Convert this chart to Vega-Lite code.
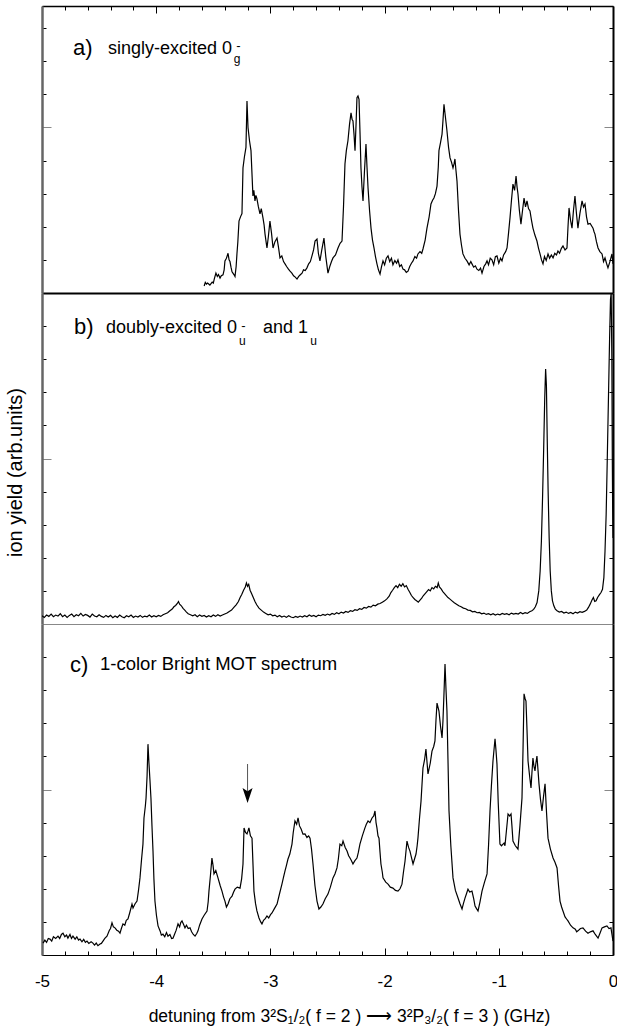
{
  "$schema": "https://vega.github.io/schema/vega-lite/v6.json",
  "padding": {"left": 5, "top": 5, "right": 3, "bottom": 5},
  "background": "white",
  "config": {
    "font": "Liberation Sans",
    "view": {"stroke": null},
    "axis": {"grid": false, "labels": false, "domainColor": "#000", "tickColor": "#000", "tickWidth": 1, "labelOverlap": false, "labelFlush": false}
  },
  "datasets": {
    "a": [
      {"x": -3.58, "y": 0.21}, {"x": -3.57, "y": 0.32}, {"x": -3.56, "y": 0.27}, {"x": -3.55, "y": 0.30}, {"x": -3.53, "y": 0.24}, {"x": -3.51, "y": 0.33}, {"x": -3.50, "y": 0.30}, {"x": -3.49, "y": 0.44}, {"x": -3.477, "y": 0.60}, {"x": -3.465, "y": 0.50}, {"x": -3.455, "y": 0.56}, {"x": -3.441, "y": 0.45}, {"x": -3.43, "y": 0.52}, {"x": -3.415, "y": 0.55}, {"x": -3.405, "y": 0.70}, {"x": -3.398, "y": 0.97}, {"x": -3.385, "y": 1.05}, {"x": -3.371, "y": 1.20}, {"x": -3.362, "y": 1.0}, {"x": -3.354, "y": 0.95}, {"x": -3.345, "y": 0.78}, {"x": -3.336, "y": 0.64}, {"x": -3.328, "y": 0.60}, {"x": -3.318, "y": 0.55}, {"x": -3.310, "y": 0.50}, {"x": -3.30, "y": 0.80}, {"x": -3.293, "y": 1.18}, {"x": -3.285, "y": 1.55}, {"x": -3.275, "y": 2.17}, {"x": -3.262, "y": 2.3}, {"x": -3.249, "y": 2.40}, {"x": -3.240, "y": 3.78}, {"x": -3.228, "y": 4.1}, {"x": -3.214, "y": 4.40}, {"x": -3.205, "y": 5.80}, {"x": -3.196, "y": 5.00}, {"x": -3.183, "y": 4.6}, {"x": -3.170, "y": 4.30}, {"x": -3.16, "y": 3.5}, {"x": -3.153, "y": 2.93}, {"x": -3.145, "y": 3.1}, {"x": -3.135, "y": 2.78}, {"x": -3.127, "y": 2.95}, {"x": -3.118, "y": 2.85}, {"x": -3.105, "y": 2.6}, {"x": -3.091, "y": 2.39}, {"x": -3.08, "y": 2.55}, {"x": -3.065, "y": 2.27}, {"x": -3.055, "y": 2.05}, {"x": -3.047, "y": 1.78}, {"x": -3.038, "y": 1.55}, {"x": -3.030, "y": 1.36}, {"x": -3.018, "y": 1.7}, {"x": -3.004, "y": 2.17}, {"x": -2.99, "y": 1.8}, {"x": -2.977, "y": 1.36}, {"x": -2.96, "y": 1.55}, {"x": -2.942, "y": 1.66}, {"x": -2.93, "y": 1.4}, {"x": -2.916, "y": 1.06}, {"x": -2.90, "y": 1.12}, {"x": -2.885, "y": 0.95}, {"x": -2.872, "y": 0.88}, {"x": -2.858, "y": 0.8}, {"x": -2.842, "y": 0.72}, {"x": -2.828, "y": 0.66}, {"x": -2.812, "y": 0.6}, {"x": -2.797, "y": 0.52}, {"x": -2.782, "y": 0.48}, {"x": -2.767, "y": 0.42}, {"x": -2.752, "y": 0.5}, {"x": -2.738, "y": 0.55}, {"x": -2.723, "y": 0.60}, {"x": -2.71, "y": 0.7}, {"x": -2.695, "y": 0.68}, {"x": -2.680, "y": 0.76}, {"x": -2.665, "y": 0.88}, {"x": -2.65, "y": 0.95}, {"x": -2.636, "y": 1.12}, {"x": -2.622, "y": 1.3}, {"x": -2.609, "y": 1.57}, {"x": -2.592, "y": 1.63}, {"x": -2.58, "y": 1.2}, {"x": -2.566, "y": 0.97}, {"x": -2.55, "y": 1.3}, {"x": -2.531, "y": 1.66}, {"x": -2.515, "y": 1.1}, {"x": -2.496, "y": 0.60}, {"x": -2.48, "y": 0.8}, {"x": -2.465, "y": 0.95}, {"x": -2.452, "y": 1.06}, {"x": -2.43, "y": 1.15}, {"x": -2.408, "y": 1.36}, {"x": -2.39, "y": 1.5}, {"x": -2.373, "y": 1.57}, {"x": -2.36, "y": 2.6}, {"x": -2.347, "y": 3.90}, {"x": -2.335, "y": 4.3}, {"x": -2.321, "y": 4.60}, {"x": -2.307, "y": 5.1}, {"x": -2.294, "y": 5.44}, {"x": -2.285, "y": 5.25}, {"x": -2.277, "y": 5.20}, {"x": -2.268, "y": 4.8}, {"x": -2.259, "y": 4.30}, {"x": -2.25, "y": 5.1}, {"x": -2.242, "y": 5.90}, {"x": -2.233, "y": 5.95}, {"x": -2.224, "y": 5.85}, {"x": -2.215, "y": 4.8}, {"x": -2.207, "y": 3.78}, {"x": -2.198, "y": 3.2}, {"x": -2.189, "y": 2.78}, {"x": -2.176, "y": 3.7}, {"x": -2.163, "y": 4.50}, {"x": -2.154, "y": 3.8}, {"x": -2.145, "y": 3.17}, {"x": -2.132, "y": 2.5}, {"x": -2.119, "y": 1.96}, {"x": -2.106, "y": 1.6}, {"x": -2.093, "y": 1.36}, {"x": -2.08, "y": 1.1}, {"x": -2.067, "y": 0.88}, {"x": -2.054, "y": 0.7}, {"x": -2.040, "y": 0.57}, {"x": -2.027, "y": 0.8}, {"x": -2.014, "y": 0.97}, {"x": -2.0, "y": 0.85}, {"x": -1.985, "y": 1.05}, {"x": -1.970, "y": 1.12}, {"x": -1.955, "y": 0.95}, {"x": -1.94, "y": 1.05}, {"x": -1.927, "y": 0.85}, {"x": -1.91, "y": 0.98}, {"x": -1.895, "y": 0.9}, {"x": -1.883, "y": 1.0}, {"x": -1.868, "y": 0.8}, {"x": -1.853, "y": 0.85}, {"x": -1.839, "y": 0.72}, {"x": -1.825, "y": 0.7}, {"x": -1.81, "y": 0.62}, {"x": -1.795, "y": 0.66}, {"x": -1.78, "y": 0.8}, {"x": -1.765, "y": 0.9}, {"x": -1.751, "y": 0.97}, {"x": -1.735, "y": 1.1}, {"x": -1.72, "y": 1.05}, {"x": -1.708, "y": 1.18}, {"x": -1.69, "y": 1.25}, {"x": -1.675, "y": 1.2}, {"x": -1.664, "y": 1.33}, {"x": -1.645, "y": 1.6}, {"x": -1.629, "y": 1.96}, {"x": -1.61, "y": 2.3}, {"x": -1.594, "y": 2.69}, {"x": -1.58, "y": 2.8}, {"x": -1.568, "y": 2.87}, {"x": -1.555, "y": 3.0}, {"x": -1.541, "y": 3.23}, {"x": -1.53, "y": 3.8}, {"x": -1.524, "y": 4.30}, {"x": -1.51, "y": 4.55}, {"x": -1.497, "y": 4.80}, {"x": -1.489, "y": 5.2}, {"x": -1.480, "y": 5.70}, {"x": -1.467, "y": 5.3}, {"x": -1.454, "y": 4.90}, {"x": -1.44, "y": 4.4}, {"x": -1.427, "y": 4.08}, {"x": -1.414, "y": 3.95}, {"x": -1.401, "y": 3.78}, {"x": -1.392, "y": 3.9}, {"x": -1.384, "y": 4.05}, {"x": -1.375, "y": 3.7}, {"x": -1.366, "y": 3.38}, {"x": -1.353, "y": 2.5}, {"x": -1.340, "y": 1.78}, {"x": -1.327, "y": 1.45}, {"x": -1.314, "y": 1.18}, {"x": -1.296, "y": 1.05}, {"x": -1.279, "y": 0.97}, {"x": -1.26, "y": 0.85}, {"x": -1.245, "y": 0.95}, {"x": -1.235, "y": 0.88}, {"x": -1.22, "y": 0.78}, {"x": -1.205, "y": 0.82}, {"x": -1.191, "y": 0.72}, {"x": -1.175, "y": 0.68}, {"x": -1.16, "y": 0.75}, {"x": -1.147, "y": 0.60}, {"x": -1.13, "y": 0.8}, {"x": -1.115, "y": 0.88}, {"x": -1.103, "y": 0.97}, {"x": -1.09, "y": 0.85}, {"x": -1.075, "y": 1.05}, {"x": -1.060, "y": 1.0}, {"x": -1.045, "y": 0.85}, {"x": -1.03, "y": 1.1}, {"x": -1.016, "y": 1.12}, {"x": -1.0, "y": 0.9}, {"x": -0.985, "y": 1.05}, {"x": -0.972, "y": 0.97}, {"x": -0.958, "y": 1.15}, {"x": -0.94, "y": 1.25}, {"x": -0.928, "y": 1.36}, {"x": -0.915, "y": 1.8}, {"x": -0.902, "y": 2.27}, {"x": -0.889, "y": 2.8}, {"x": -0.876, "y": 3.29}, {"x": -0.862, "y": 3.1}, {"x": -0.849, "y": 3.53}, {"x": -0.84, "y": 3.2}, {"x": -0.832, "y": 2.99}, {"x": -0.82, "y": 2.5}, {"x": -0.806, "y": 2.08}, {"x": -0.792, "y": 2.5}, {"x": -0.779, "y": 2.87}, {"x": -0.766, "y": 2.6}, {"x": -0.753, "y": 2.78}, {"x": -0.74, "y": 2.55}, {"x": -0.727, "y": 2.48}, {"x": -0.714, "y": 2.2}, {"x": -0.701, "y": 1.96}, {"x": -0.684, "y": 1.75}, {"x": -0.666, "y": 1.57}, {"x": -0.652, "y": 1.35}, {"x": -0.639, "y": 1.18}, {"x": -0.626, "y": 1.0}, {"x": -0.613, "y": 0.88}, {"x": -0.6, "y": 1.1}, {"x": -0.585, "y": 0.98}, {"x": -0.569, "y": 1.18}, {"x": -0.555, "y": 1.05}, {"x": -0.54, "y": 1.15}, {"x": -0.525, "y": 1.06}, {"x": -0.51, "y": 1.2}, {"x": -0.495, "y": 1.15}, {"x": -0.482, "y": 1.27}, {"x": -0.468, "y": 1.2}, {"x": -0.452, "y": 1.35}, {"x": -0.438, "y": 1.42}, {"x": -0.42, "y": 1.3}, {"x": -0.403, "y": 1.36}, {"x": -0.394, "y": 2.0}, {"x": -0.385, "y": 2.57}, {"x": -0.372, "y": 2.2}, {"x": -0.359, "y": 1.96}, {"x": -0.346, "y": 2.5}, {"x": -0.333, "y": 2.93}, {"x": -0.32, "y": 2.4}, {"x": -0.307, "y": 1.96}, {"x": -0.29, "y": 2.4}, {"x": -0.271, "y": 2.78}, {"x": -0.258, "y": 2.6}, {"x": -0.245, "y": 2.69}, {"x": -0.232, "y": 2.3}, {"x": -0.219, "y": 2.08}, {"x": -0.2, "y": 2.1}, {"x": -0.175, "y": 1.96}, {"x": -0.166, "y": 1.85}, {"x": -0.158, "y": 1.78}, {"x": -0.145, "y": 1.55}, {"x": -0.131, "y": 1.36}, {"x": -0.115, "y": 1.25}, {"x": -0.096, "y": 1.18}, {"x": -0.083, "y": 0.95}, {"x": -0.070, "y": 1.06}, {"x": -0.057, "y": 0.9}, {"x": -0.044, "y": 0.76}, {"x": -0.027, "y": 0.95}, {"x": -0.009, "y": 1.18}, {"x": 0.0, "y": 0.88}
    ],
    "b": [
      {"x": -5.0, "y": 0.25}, {"x": -4.98, "y": 0.2}, {"x": -4.96, "y": 0.27}, {"x": -4.94, "y": 0.23}, {"x": -4.92, "y": 0.3}, {"x": -4.9, "y": 0.22}, {"x": -4.88, "y": 0.27}, {"x": -4.86, "y": 0.24}, {"x": -4.84, "y": 0.31}, {"x": -4.82, "y": 0.22}, {"x": -4.8, "y": 0.27}, {"x": -4.78, "y": 0.2}, {"x": -4.76, "y": 0.26}, {"x": -4.74, "y": 0.3}, {"x": -4.72, "y": 0.22}, {"x": -4.7, "y": 0.28}, {"x": -4.68, "y": 0.25}, {"x": -4.66, "y": 0.32}, {"x": -4.64, "y": 0.24}, {"x": -4.62, "y": 0.29}, {"x": -4.6, "y": 0.26}, {"x": -4.58, "y": 0.21}, {"x": -4.56, "y": 0.3}, {"x": -4.54, "y": 0.24}, {"x": -4.52, "y": 0.22}, {"x": -4.5, "y": 0.28}, {"x": -4.48, "y": 0.23}, {"x": -4.46, "y": 0.2}, {"x": -4.44, "y": 0.26}, {"x": -4.42, "y": 0.21}, {"x": -4.4, "y": 0.26}, {"x": -4.38, "y": 0.19}, {"x": -4.36, "y": 0.24}, {"x": -4.34, "y": 0.2}, {"x": -4.32, "y": 0.27}, {"x": -4.3, "y": 0.22}, {"x": -4.28, "y": 0.19}, {"x": -4.26, "y": 0.25}, {"x": -4.24, "y": 0.22}, {"x": -4.22, "y": 0.27}, {"x": -4.2, "y": 0.2}, {"x": -4.18, "y": 0.24}, {"x": -4.16, "y": 0.21}, {"x": -4.14, "y": 0.26}, {"x": -4.12, "y": 0.2}, {"x": -4.1, "y": 0.24}, {"x": -4.08, "y": 0.22}, {"x": -4.06, "y": 0.27}, {"x": -4.04, "y": 0.21}, {"x": -4.02, "y": 0.25}, {"x": -4.0, "y": 0.22}, {"x": -3.98, "y": 0.26}, {"x": -3.96, "y": 0.23}, {"x": -3.94, "y": 0.28}, {"x": -3.92, "y": 0.31}, {"x": -3.9, "y": 0.34}, {"x": -3.88, "y": 0.4}, {"x": -3.86, "y": 0.45}, {"x": -3.845, "y": 0.52}, {"x": -3.83, "y": 0.56}, {"x": -3.815, "y": 0.62}, {"x": -3.805, "y": 0.68}, {"x": -3.795, "y": 0.6}, {"x": -3.78, "y": 0.55}, {"x": -3.765, "y": 0.47}, {"x": -3.75, "y": 0.42}, {"x": -3.735, "y": 0.36}, {"x": -3.72, "y": 0.31}, {"x": -3.7, "y": 0.28}, {"x": -3.68, "y": 0.25}, {"x": -3.66, "y": 0.28}, {"x": -3.64, "y": 0.22}, {"x": -3.62, "y": 0.27}, {"x": -3.6, "y": 0.23}, {"x": -3.58, "y": 0.26}, {"x": -3.56, "y": 0.21}, {"x": -3.54, "y": 0.25}, {"x": -3.52, "y": 0.22}, {"x": -3.5, "y": 0.27}, {"x": -3.48, "y": 0.23}, {"x": -3.46, "y": 0.28}, {"x": -3.44, "y": 0.24}, {"x": -3.42, "y": 0.27}, {"x": -3.4, "y": 0.3}, {"x": -3.38, "y": 0.33}, {"x": -3.36, "y": 0.38}, {"x": -3.34, "y": 0.42}, {"x": -3.32, "y": 0.5}, {"x": -3.3, "y": 0.58}, {"x": -3.28, "y": 0.68}, {"x": -3.265, "y": 0.8}, {"x": -3.25, "y": 0.9}, {"x": -3.235, "y": 1.02}, {"x": -3.22, "y": 1.12}, {"x": -3.21, "y": 1.24}, {"x": -3.2, "y": 1.14}, {"x": -3.19, "y": 1.2}, {"x": -3.178, "y": 1.02}, {"x": -3.165, "y": 0.92}, {"x": -3.15, "y": 0.8}, {"x": -3.135, "y": 0.68}, {"x": -3.12, "y": 0.58}, {"x": -3.1, "y": 0.48}, {"x": -3.08, "y": 0.42}, {"x": -3.06, "y": 0.36}, {"x": -3.04, "y": 0.32}, {"x": -3.02, "y": 0.28}, {"x": -3.0, "y": 0.3}, {"x": -2.98, "y": 0.25}, {"x": -2.96, "y": 0.27}, {"x": -2.94, "y": 0.22}, {"x": -2.92, "y": 0.26}, {"x": -2.9, "y": 0.21}, {"x": -2.88, "y": 0.24}, {"x": -2.86, "y": 0.2}, {"x": -2.84, "y": 0.25}, {"x": -2.82, "y": 0.21}, {"x": -2.8, "y": 0.19}, {"x": -2.78, "y": 0.23}, {"x": -2.76, "y": 0.2}, {"x": -2.74, "y": 0.24}, {"x": -2.72, "y": 0.21}, {"x": -2.7, "y": 0.25}, {"x": -2.68, "y": 0.22}, {"x": -2.66, "y": 0.27}, {"x": -2.64, "y": 0.23}, {"x": -2.62, "y": 0.26}, {"x": -2.6, "y": 0.22}, {"x": -2.58, "y": 0.27}, {"x": -2.56, "y": 0.25}, {"x": -2.54, "y": 0.29}, {"x": -2.52, "y": 0.26}, {"x": -2.5, "y": 0.3}, {"x": -2.48, "y": 0.27}, {"x": -2.46, "y": 0.32}, {"x": -2.44, "y": 0.29}, {"x": -2.42, "y": 0.34}, {"x": -2.4, "y": 0.31}, {"x": -2.38, "y": 0.36}, {"x": -2.36, "y": 0.33}, {"x": -2.34, "y": 0.38}, {"x": -2.32, "y": 0.35}, {"x": -2.3, "y": 0.4}, {"x": -2.28, "y": 0.38}, {"x": -2.26, "y": 0.43}, {"x": -2.24, "y": 0.41}, {"x": -2.22, "y": 0.46}, {"x": -2.2, "y": 0.44}, {"x": -2.18, "y": 0.5}, {"x": -2.16, "y": 0.48}, {"x": -2.14, "y": 0.53}, {"x": -2.12, "y": 0.51}, {"x": -2.1, "y": 0.57}, {"x": -2.08, "y": 0.55}, {"x": -2.06, "y": 0.6}, {"x": -2.04, "y": 0.62}, {"x": -2.02, "y": 0.66}, {"x": -2.0, "y": 0.7}, {"x": -1.98, "y": 0.76}, {"x": -1.96, "y": 0.84}, {"x": -1.945, "y": 0.95}, {"x": -1.93, "y": 1.02}, {"x": -1.915, "y": 1.1}, {"x": -1.9, "y": 1.16}, {"x": -1.885, "y": 1.1}, {"x": -1.87, "y": 1.2}, {"x": -1.855, "y": 1.14}, {"x": -1.84, "y": 1.22}, {"x": -1.825, "y": 1.12}, {"x": -1.81, "y": 1.16}, {"x": -1.795, "y": 1.05}, {"x": -1.78, "y": 0.96}, {"x": -1.765, "y": 0.86}, {"x": -1.75, "y": 0.8}, {"x": -1.735, "y": 0.74}, {"x": -1.72, "y": 0.7}, {"x": -1.705, "y": 0.66}, {"x": -1.69, "y": 0.72}, {"x": -1.675, "y": 0.78}, {"x": -1.66, "y": 0.86}, {"x": -1.645, "y": 0.92}, {"x": -1.63, "y": 0.98}, {"x": -1.615, "y": 1.04}, {"x": -1.6, "y": 1.0}, {"x": -1.585, "y": 1.1}, {"x": -1.57, "y": 1.06}, {"x": -1.555, "y": 1.14}, {"x": -1.54, "y": 1.1}, {"x": -1.53, "y": 1.24}, {"x": -1.52, "y": 1.12}, {"x": -1.505, "y": 1.06}, {"x": -1.49, "y": 0.98}, {"x": -1.475, "y": 0.92}, {"x": -1.46, "y": 0.86}, {"x": -1.445, "y": 0.8}, {"x": -1.43, "y": 0.76}, {"x": -1.41, "y": 0.7}, {"x": -1.39, "y": 0.64}, {"x": -1.37, "y": 0.6}, {"x": -1.35, "y": 0.55}, {"x": -1.33, "y": 0.52}, {"x": -1.31, "y": 0.48}, {"x": -1.29, "y": 0.46}, {"x": -1.27, "y": 0.42}, {"x": -1.25, "y": 0.41}, {"x": -1.23, "y": 0.37}, {"x": -1.21, "y": 0.38}, {"x": -1.19, "y": 0.34}, {"x": -1.17, "y": 0.35}, {"x": -1.15, "y": 0.31}, {"x": -1.13, "y": 0.33}, {"x": -1.11, "y": 0.29}, {"x": -1.09, "y": 0.31}, {"x": -1.07, "y": 0.28}, {"x": -1.05, "y": 0.31}, {"x": -1.03, "y": 0.27}, {"x": -1.01, "y": 0.3}, {"x": -0.99, "y": 0.28}, {"x": -0.97, "y": 0.32}, {"x": -0.95, "y": 0.29}, {"x": -0.93, "y": 0.31}, {"x": -0.91, "y": 0.28}, {"x": -0.89, "y": 0.33}, {"x": -0.87, "y": 0.3}, {"x": -0.85, "y": 0.32}, {"x": -0.83, "y": 0.3}, {"x": -0.81, "y": 0.35}, {"x": -0.79, "y": 0.31}, {"x": -0.77, "y": 0.34}, {"x": -0.75, "y": 0.32}, {"x": -0.73, "y": 0.37}, {"x": -0.71, "y": 0.4}, {"x": -0.695, "y": 0.44}, {"x": -0.68, "y": 0.52}, {"x": -0.665, "y": 0.65}, {"x": -0.65, "y": 1.0}, {"x": -0.638, "y": 1.6}, {"x": -0.627, "y": 2.5}, {"x": -0.617, "y": 3.8}, {"x": -0.607, "y": 5.3}, {"x": -0.598, "y": 6.8}, {"x": -0.59, "y": 7.7}, {"x": -0.583, "y": 7.2}, {"x": -0.576, "y": 5.6}, {"x": -0.568, "y": 4.0}, {"x": -0.559, "y": 2.6}, {"x": -0.55, "y": 1.6}, {"x": -0.54, "y": 1.0}, {"x": -0.53, "y": 0.7}, {"x": -0.518, "y": 0.55}, {"x": -0.505, "y": 0.45}, {"x": -0.49, "y": 0.4}, {"x": -0.47, "y": 0.36}, {"x": -0.45, "y": 0.38}, {"x": -0.43, "y": 0.33}, {"x": -0.41, "y": 0.36}, {"x": -0.39, "y": 0.32}, {"x": -0.37, "y": 0.35}, {"x": -0.35, "y": 0.31}, {"x": -0.33, "y": 0.36}, {"x": -0.31, "y": 0.33}, {"x": -0.29, "y": 0.37}, {"x": -0.27, "y": 0.35}, {"x": -0.25, "y": 0.38}, {"x": -0.23, "y": 0.42}, {"x": -0.215, "y": 0.5}, {"x": -0.2, "y": 0.6}, {"x": -0.185, "y": 0.72}, {"x": -0.172, "y": 0.8}, {"x": -0.16, "y": 0.68}, {"x": -0.148, "y": 0.7}, {"x": -0.135, "y": 0.8}, {"x": -0.12, "y": 0.88}, {"x": -0.105, "y": 0.95}, {"x": -0.092, "y": 1.05}, {"x": -0.08, "y": 1.4}, {"x": -0.07, "y": 2.2}, {"x": -0.06, "y": 3.3}, {"x": -0.05, "y": 5.0}, {"x": -0.04, "y": 6.8}, {"x": -0.03, "y": 8.6}, {"x": -0.022, "y": 9.8}, {"x": -0.016, "y": 10.0}, {"x": -0.01, "y": 8.0}, {"x": -0.006, "y": 5.0}, {"x": -0.003, "y": 3.5}, {"x": 0.0, "y": 2.6}
    ],
    "c": [
      {"x": -4.991, "y": 0.36}, {"x": -4.975, "y": 0.45}, {"x": -4.96, "y": 0.38}, {"x": -4.945, "y": 0.5}, {"x": -4.93, "y": 0.48}, {"x": -4.915, "y": 0.42}, {"x": -4.9, "y": 0.55}, {"x": -4.88, "y": 0.5}, {"x": -4.86, "y": 0.57}, {"x": -4.845, "y": 0.5}, {"x": -4.83, "y": 0.62}, {"x": -4.816, "y": 0.66}, {"x": -4.8, "y": 0.55}, {"x": -4.785, "y": 0.6}, {"x": -4.773, "y": 0.51}, {"x": -4.755, "y": 0.62}, {"x": -4.742, "y": 0.5}, {"x": -4.729, "y": 0.57}, {"x": -4.71, "y": 0.48}, {"x": -4.695, "y": 0.55}, {"x": -4.68, "y": 0.45}, {"x": -4.667, "y": 0.48}, {"x": -4.65, "y": 0.4}, {"x": -4.635, "y": 0.47}, {"x": -4.62, "y": 0.38}, {"x": -4.606, "y": 0.42}, {"x": -4.59, "y": 0.35}, {"x": -4.57, "y": 0.4}, {"x": -4.554, "y": 0.36}, {"x": -4.54, "y": 0.3}, {"x": -4.525, "y": 0.36}, {"x": -4.51, "y": 0.28}, {"x": -4.492, "y": 0.33}, {"x": -4.48, "y": 0.35}, {"x": -4.466, "y": 0.42}, {"x": -4.45, "y": 0.5}, {"x": -4.431, "y": 0.57}, {"x": -4.41, "y": 0.75}, {"x": -4.4, "y": 0.8}, {"x": -4.387, "y": 0.97}, {"x": -4.375, "y": 0.85}, {"x": -4.361, "y": 0.82}, {"x": -4.345, "y": 0.75}, {"x": -4.33, "y": 0.72}, {"x": -4.317, "y": 0.66}, {"x": -4.305, "y": 0.8}, {"x": -4.291, "y": 0.94}, {"x": -4.275, "y": 0.9}, {"x": -4.262, "y": 1.05}, {"x": -4.247, "y": 1.09}, {"x": -4.23, "y": 1.3}, {"x": -4.212, "y": 1.54}, {"x": -4.203, "y": 1.42}, {"x": -4.185, "y": 1.55}, {"x": -4.168, "y": 1.63}, {"x": -4.155, "y": 1.95}, {"x": -4.142, "y": 2.33}, {"x": -4.128, "y": 2.9}, {"x": -4.116, "y": 3.35}, {"x": -4.107, "y": 4.14}, {"x": -4.095, "y": 4.5}, {"x": -4.089, "y": 4.74}, {"x": -4.08, "y": 5.4}, {"x": -4.072, "y": 6.37}, {"x": -4.063, "y": 5.77}, {"x": -4.055, "y": 5.3}, {"x": -4.046, "y": 4.74}, {"x": -4.037, "y": 3.9}, {"x": -4.028, "y": 3.14}, {"x": -4.02, "y": 2.3}, {"x": -4.011, "y": 1.63}, {"x": -3.998, "y": 1.2}, {"x": -3.984, "y": 0.88}, {"x": -3.965, "y": 0.72}, {"x": -3.955, "y": 0.6}, {"x": -3.941, "y": 0.63}, {"x": -3.925, "y": 0.55}, {"x": -3.91, "y": 0.68}, {"x": -3.897, "y": 0.57}, {"x": -3.88, "y": 0.62}, {"x": -3.865, "y": 0.5}, {"x": -3.853, "y": 0.51}, {"x": -3.84, "y": 0.62}, {"x": -3.825, "y": 0.75}, {"x": -3.809, "y": 0.94}, {"x": -3.795, "y": 0.85}, {"x": -3.785, "y": 0.98}, {"x": -3.774, "y": 1.03}, {"x": -3.76, "y": 0.92}, {"x": -3.748, "y": 0.82}, {"x": -3.735, "y": 0.9}, {"x": -3.72, "y": 0.8}, {"x": -3.704, "y": 0.82}, {"x": -3.69, "y": 0.7}, {"x": -3.675, "y": 0.62}, {"x": -3.66, "y": 0.57}, {"x": -3.645, "y": 0.65}, {"x": -3.634, "y": 0.73}, {"x": -3.62, "y": 0.9}, {"x": -3.599, "y": 1.09}, {"x": -3.58, "y": 1.2}, {"x": -3.555, "y": 1.33}, {"x": -3.545, "y": 1.6}, {"x": -3.538, "y": 1.93}, {"x": -3.525, "y": 2.4}, {"x": -3.512, "y": 2.93}, {"x": -3.502, "y": 2.7}, {"x": -3.494, "y": 2.45}, {"x": -3.478, "y": 2.55}, {"x": -3.459, "y": 2.33}, {"x": -3.44, "y": 2.1}, {"x": -3.424, "y": 1.93}, {"x": -3.41, "y": 1.75}, {"x": -3.398, "y": 1.63}, {"x": -3.385, "y": 1.45}, {"x": -3.371, "y": 1.54}, {"x": -3.355, "y": 1.7}, {"x": -3.336, "y": 1.78}, {"x": -3.322, "y": 1.9}, {"x": -3.31, "y": 1.99}, {"x": -3.29, "y": 2.05}, {"x": -3.266, "y": 2.02}, {"x": -3.252, "y": 2.3}, {"x": -3.24, "y": 2.75}, {"x": -3.231, "y": 3.84}, {"x": -3.218, "y": 3.7}, {"x": -3.205, "y": 3.66}, {"x": -3.196, "y": 3.75}, {"x": -3.188, "y": 3.84}, {"x": -3.175, "y": 3.6}, {"x": -3.161, "y": 3.53}, {"x": -3.152, "y": 2.7}, {"x": -3.144, "y": 1.93}, {"x": -3.13, "y": 1.55}, {"x": -3.118, "y": 1.33}, {"x": -3.1, "y": 1.12}, {"x": -3.085, "y": 1.0}, {"x": -3.074, "y": 0.94}, {"x": -3.06, "y": 1.05}, {"x": -3.045, "y": 1.1}, {"x": -3.03, "y": 1.18}, {"x": -3.015, "y": 1.12}, {"x": -2.999, "y": 1.22}, {"x": -2.986, "y": 1.27}, {"x": -2.965, "y": 1.4}, {"x": -2.942, "y": 1.54}, {"x": -2.92, "y": 1.85}, {"x": -2.899, "y": 2.14}, {"x": -2.885, "y": 2.35}, {"x": -2.872, "y": 2.54}, {"x": -2.86, "y": 2.7}, {"x": -2.846, "y": 2.9}, {"x": -2.83, "y": 3.05}, {"x": -2.811, "y": 3.35}, {"x": -2.8, "y": 3.7}, {"x": -2.785, "y": 4.05}, {"x": -2.77, "y": 3.95}, {"x": -2.758, "y": 4.14}, {"x": -2.745, "y": 3.9}, {"x": -2.73, "y": 3.8}, {"x": -2.715, "y": 3.65}, {"x": -2.697, "y": 3.66}, {"x": -2.68, "y": 3.55}, {"x": -2.665, "y": 3.6}, {"x": -2.653, "y": 3.53}, {"x": -2.64, "y": 3.2}, {"x": -2.627, "y": 2.75}, {"x": -2.61, "y": 2.1}, {"x": -2.592, "y": 1.63}, {"x": -2.575, "y": 1.39}, {"x": -2.558, "y": 1.45}, {"x": -2.54, "y": 1.54}, {"x": -2.52, "y": 1.7}, {"x": -2.496, "y": 1.84}, {"x": -2.475, "y": 2.05}, {"x": -2.452, "y": 2.33}, {"x": -2.435, "y": 2.45}, {"x": -2.417, "y": 2.63}, {"x": -2.405, "y": 2.9}, {"x": -2.391, "y": 3.35}, {"x": -2.375, "y": 3.3}, {"x": -2.364, "y": 3.44}, {"x": -2.345, "y": 3.25}, {"x": -2.329, "y": 3.14}, {"x": -2.315, "y": 3.0}, {"x": -2.303, "y": 2.93}, {"x": -2.29, "y": 2.85}, {"x": -2.277, "y": 2.75}, {"x": -2.26, "y": 2.85}, {"x": -2.242, "y": 2.93}, {"x": -2.23, "y": 3.1}, {"x": -2.216, "y": 3.35}, {"x": -2.195, "y": 3.6}, {"x": -2.172, "y": 3.84}, {"x": -2.16, "y": 3.95}, {"x": -2.145, "y": 4.05}, {"x": -2.128, "y": 4.0}, {"x": -2.11, "y": 4.14}, {"x": -2.095, "y": 4.2}, {"x": -2.084, "y": 4.35}, {"x": -2.075, "y": 4.0}, {"x": -2.067, "y": 3.84}, {"x": -2.058, "y": 3.6}, {"x": -2.049, "y": 3.53}, {"x": -2.04, "y": 3.1}, {"x": -2.032, "y": 2.75}, {"x": -2.02, "y": 2.5}, {"x": -2.014, "y": 2.33}, {"x": -1.99, "y": 2.2}, {"x": -1.97, "y": 2.14}, {"x": -1.95, "y": 2.05}, {"x": -1.927, "y": 2.02}, {"x": -1.905, "y": 1.95}, {"x": -1.883, "y": 1.93}, {"x": -1.865, "y": 2.0}, {"x": -1.848, "y": 2.14}, {"x": -1.835, "y": 2.5}, {"x": -1.821, "y": 2.84}, {"x": -1.804, "y": 3.44}, {"x": -1.79, "y": 3.25}, {"x": -1.778, "y": 3.14}, {"x": -1.765, "y": 2.95}, {"x": -1.751, "y": 2.75}, {"x": -1.738, "y": 2.9}, {"x": -1.725, "y": 3.05}, {"x": -1.715, "y": 3.3}, {"x": -1.708, "y": 3.53}, {"x": -1.695, "y": 4.1}, {"x": -1.681, "y": 4.65}, {"x": -1.664, "y": 5.65}, {"x": -1.65, "y": 5.9}, {"x": -1.638, "y": 6.22}, {"x": -1.628, "y": 5.8}, {"x": -1.62, "y": 5.47}, {"x": -1.6, "y": 5.8}, {"x": -1.585, "y": 6.16}, {"x": -1.57, "y": 6.3}, {"x": -1.559, "y": 6.47}, {"x": -1.55, "y": 7.1}, {"x": -1.541, "y": 7.61}, {"x": -1.524, "y": 7.37}, {"x": -1.51, "y": 6.9}, {"x": -1.497, "y": 6.56}, {"x": -1.489, "y": 7.07}, {"x": -1.48, "y": 7.9}, {"x": -1.471, "y": 8.79}, {"x": -1.462, "y": 8.0}, {"x": -1.454, "y": 7.37}, {"x": -1.445, "y": 5.9}, {"x": -1.436, "y": 4.35}, {"x": -1.42, "y": 3.3}, {"x": -1.401, "y": 2.33}, {"x": -1.38, "y": 1.95}, {"x": -1.357, "y": 1.72}, {"x": -1.34, "y": 1.55}, {"x": -1.322, "y": 1.39}, {"x": -1.31, "y": 1.55}, {"x": -1.296, "y": 1.72}, {"x": -1.283, "y": 1.85}, {"x": -1.27, "y": 1.99}, {"x": -1.255, "y": 1.9}, {"x": -1.235, "y": 1.93}, {"x": -1.22, "y": 1.7}, {"x": -1.208, "y": 1.48}, {"x": -1.195, "y": 1.4}, {"x": -1.182, "y": 1.33}, {"x": -1.165, "y": 1.6}, {"x": -1.147, "y": 1.93}, {"x": -1.125, "y": 2.2}, {"x": -1.103, "y": 2.45}, {"x": -1.09, "y": 3.3}, {"x": -1.077, "y": 4.35}, {"x": -1.065, "y": 5.1}, {"x": -1.051, "y": 5.86}, {"x": -1.042, "y": 6.2}, {"x": -1.033, "y": 6.53}, {"x": -1.025, "y": 6.2}, {"x": -1.016, "y": 5.77}, {"x": -1.005, "y": 4.6}, {"x": -0.99, "y": 3.35}, {"x": -0.977, "y": 3.3}, {"x": -0.963, "y": 3.35}, {"x": -0.954, "y": 3.38}, {"x": -0.946, "y": 3.3}, {"x": -0.932, "y": 3.8}, {"x": -0.919, "y": 4.26}, {"x": -0.905, "y": 4.2}, {"x": -0.893, "y": 4.26}, {"x": -0.885, "y": 3.9}, {"x": -0.876, "y": 3.44}, {"x": -0.855, "y": 3.3}, {"x": -0.832, "y": 3.2}, {"x": -0.815, "y": 3.9}, {"x": -0.797, "y": 4.74}, {"x": -0.788, "y": 6.2}, {"x": -0.779, "y": 7.89}, {"x": -0.77, "y": 7.75}, {"x": -0.762, "y": 7.67}, {"x": -0.753, "y": 6.8}, {"x": -0.744, "y": 5.86}, {"x": -0.73, "y": 5.4}, {"x": -0.718, "y": 5.05}, {"x": -0.71, "y": 5.5}, {"x": -0.701, "y": 5.95}, {"x": -0.692, "y": 5.7}, {"x": -0.683, "y": 5.56}, {"x": -0.675, "y": 5.8}, {"x": -0.666, "y": 6.01}, {"x": -0.657, "y": 5.6}, {"x": -0.648, "y": 5.17}, {"x": -0.635, "y": 4.7}, {"x": -0.622, "y": 4.35}, {"x": -0.608, "y": 4.8}, {"x": -0.595, "y": 5.17}, {"x": -0.582, "y": 4.3}, {"x": -0.569, "y": 3.53}, {"x": -0.548, "y": 3.2}, {"x": -0.525, "y": 2.93}, {"x": -0.508, "y": 2.8}, {"x": -0.49, "y": 2.63}, {"x": -0.477, "y": 2.1}, {"x": -0.464, "y": 1.63}, {"x": -0.45, "y": 1.45}, {"x": -0.438, "y": 1.33}, {"x": -0.42, "y": 1.15}, {"x": -0.405, "y": 1.08}, {"x": -0.394, "y": 1.03}, {"x": -0.372, "y": 0.9}, {"x": -0.35, "y": 0.82}, {"x": -0.33, "y": 0.78}, {"x": -0.318, "y": 0.7}, {"x": -0.307, "y": 0.73}, {"x": -0.285, "y": 0.8}, {"x": -0.263, "y": 0.82}, {"x": -0.24, "y": 0.72}, {"x": -0.219, "y": 0.66}, {"x": -0.198, "y": 0.7}, {"x": -0.175, "y": 0.73}, {"x": -0.155, "y": 0.62}, {"x": -0.131, "y": 0.51}, {"x": -0.115, "y": 0.65}, {"x": -0.096, "y": 0.82}, {"x": -0.075, "y": 0.85}, {"x": -0.053, "y": 0.88}, {"x": -0.035, "y": 0.8}, {"x": -0.018, "y": 0.82}, {"x": -0.008, "y": 0.6}, {"x": 0.0, "y": 0.42}
    ]
  },
  "spacing": 0,
  "bounds": "flush",
  "vconcat": [
    {
      "width": 571,
      "height": 287,
      "layer": [
        {
          "data": {"name": "a"},
          "mark": {"type": "line", "color": "#000", "strokeWidth": 1.2, "clip": true},
          "encoding": {
            "x": {"field": "x", "type": "quantitative", "scale": {"domain": [-5, 0], "nice": false, "zero": false},
              "axis": {"orient": "top", "title": null, "labels": false, "domainWidth": 1.5,
                "values": [-5, -4.8, -4.6, -4.4, -4.2, -4, -3.8, -3.6, -3.4, -3.2, -3, -2.8, -2.6, -2.4, -2.2, -2, -1.8, -1.6, -1.4, -1.2, -1, -0.8, -0.6, -0.4, -0.2, 0],
                "tickSize": {"condition": {"test": "abs(datum.value - round(datum.value)) < 0.01", "value": -7}, "value": -4}}},
            "y": {"field": "y", "type": "quantitative", "scale": {"domain": [0, 8.67], "nice": false, "zero": false},
              "axis": {"orient": "left", "title": null, "labels": false, "domainColor": "#666", "domainWidth": 2.5,
                "values": [1, 2, 3, 4, 5, 6, 7, 8],
                "tickSize": {"condition": {"test": "datum.value == 5", "value": -9}, "value": -4},
                "tickColor": {"condition": {"test": "datum.value == 5", "value": "#888"}, "value": "#000"}}}
          }
        },
        {
          "data": {"name": "a"},
          "mark": {"type": "line", "opacity": 0},
          "encoding": {
            "x": {"field": "x", "type": "quantitative", "axis": {"orient": "bottom", "title": null, "labels": false, "ticks": false, "domainWidth": 1.8}},
            "y": {"field": "y", "type": "quantitative",
              "axis": {"orient": "right", "title": null, "labels": false, "domainWidth": 2,
                "values": [1, 2, 3, 4, 5, 6, 7, 8],
                "tickSize": {"condition": {"test": "datum.value == 5", "value": -9}, "value": -4},
                "tickColor": {"condition": {"test": "datum.value == 5", "value": "#888"}, "value": "#000"}}}
          }
        },
        {
          "data": {"values": [{}]},
          "mark": {"type": "text", "text": "a)", "fontSize": 22, "align": "left", "baseline": "alphabetic", "color": "#000"},
          "encoding": {"x": {"datum": -4.729, "type": "quantitative", "axis": null}, "y": {"datum": 7.2, "type": "quantitative", "axis": null}}
        },
        {
          "data": {"values": [{}]},
          "mark": {"type": "text", "text": "singly-excited 0", "fontSize": 18, "align": "left", "baseline": "alphabetic", "color": "#000"},
          "encoding": {"x": {"datum": -4.422, "type": "quantitative", "axis": null}, "y": {"datum": 7.22, "type": "quantitative", "axis": null}}
        },
        {
          "data": {"values": [{}]},
          "mark": {"type": "text", "text": "g", "fontSize": 12, "align": "left", "baseline": "alphabetic", "color": "#000"},
          "encoding": {"x": {"datum": -3.322, "type": "quantitative", "axis": null}, "y": {"datum": 6.95, "type": "quantitative", "axis": null}}
        },
        {
          "data": {"values": [{}]},
          "mark": {"type": "text", "text": "-", "fontSize": 13, "align": "left", "baseline": "alphabetic", "color": "#000"},
          "encoding": {"x": {"datum": -3.3, "type": "quantitative", "axis": null}, "y": {"datum": 7.35, "type": "quantitative", "axis": null}}
        }
      ],
      "resolve": {"axis": {"x": "independent", "y": "independent"}}
    },
    {
      "width": 571,
      "height": 331,
      "layer": [
        {
          "data": {"name": "b"},
          "mark": {"type": "line", "color": "#000", "strokeWidth": 1.2, "clip": true},
          "encoding": {
            "x": {"field": "x", "type": "quantitative", "scale": {"domain": [-5, 0], "nice": false, "zero": false},
              "axis": {"orient": "bottom", "title": null, "labels": false, "ticks": false, "domainColor": "#888", "domainWidth": 1}},
            "y": {"field": "y", "type": "quantitative", "scale": {"domain": [0, 10], "nice": false, "zero": false},
              "axis": {"orient": "left", "labels": false, "domainColor": "#666", "domainWidth": 2.5,
                "values": [1, 2, 3, 4, 5, 6, 7, 8, 9],
                "tickSize": {"condition": {"test": "datum.value == 5", "value": -9}, "value": -4},
                "tickColor": {"condition": {"test": "datum.value == 5", "value": "#888"}, "value": "#000"},
                "title": "ion yield (arb.units)", "titleFontSize": 20, "titleFontWeight": "normal", "titleColor": "#000",
                "titleX": -17, "titleY": 179, "titleAngle": -90, "titleAlign": "center", "titleBaseline": "bottom"}}
          }
        },
        {
          "data": {"name": "b"},
          "mark": {"type": "line", "opacity": 0},
          "encoding": {
            "x": {"field": "x", "type": "quantitative", "axis": null},
            "y": {"field": "y", "type": "quantitative",
              "axis": {"orient": "right", "title": null, "labels": false, "domainWidth": 2,
                "values": [1, 2, 3, 4, 5, 6, 7, 8, 9],
                "tickSize": {"condition": {"test": "datum.value == 5", "value": -9}, "value": -4},
                "tickColor": {"condition": {"test": "datum.value == 5", "value": "#888"}, "value": "#000"}}}
          }
        },
        {
          "data": {"values": [{}]},
          "mark": {"type": "text", "text": "b)", "fontSize": 22, "align": "left", "baseline": "alphabetic", "color": "#000"},
          "encoding": {"x": {"datum": -4.72, "type": "quantitative", "axis": null}, "y": {"datum": 8.77, "type": "quantitative", "axis": null}}
        },
        {
          "data": {"values": [{}]},
          "mark": {"type": "text", "text": "doubly-excited 0", "fontSize": 18, "align": "left", "baseline": "alphabetic", "color": "#000"},
          "encoding": {"x": {"datum": -4.44, "type": "quantitative", "axis": null}, "y": {"datum": 8.79, "type": "quantitative", "axis": null}}
        },
        {
          "data": {"values": [{}]},
          "mark": {"type": "text", "text": "u", "fontSize": 12, "align": "left", "baseline": "alphabetic", "color": "#000"},
          "encoding": {"x": {"datum": -3.275, "type": "quantitative", "axis": null}, "y": {"datum": 8.43, "type": "quantitative", "axis": null}}
        },
        {
          "data": {"values": [{}]},
          "mark": {"type": "text", "text": "-", "fontSize": 13, "align": "left", "baseline": "alphabetic", "color": "#000"},
          "encoding": {"x": {"datum": -3.255, "type": "quantitative", "axis": null}, "y": {"datum": 8.88, "type": "quantitative", "axis": null}}
        },
        {
          "data": {"values": [{}]},
          "mark": {"type": "text", "text": "and 1", "fontSize": 18, "align": "left", "baseline": "alphabetic", "color": "#000"},
          "encoding": {"x": {"datum": -3.065, "type": "quantitative", "axis": null}, "y": {"datum": 8.79, "type": "quantitative", "axis": null}}
        },
        {
          "data": {"values": [{}]},
          "mark": {"type": "text", "text": "u", "fontSize": 12, "align": "left", "baseline": "alphabetic", "color": "#000"},
          "encoding": {"x": {"datum": -2.65, "type": "quantitative", "axis": null}, "y": {"datum": 8.43, "type": "quantitative", "axis": null}}
        }
      ],
      "resolve": {"axis": {"x": "independent", "y": "independent"}}
    },
    {
      "width": 571,
      "height": 331,
      "layer": [
        {
          "data": {"name": "c"},
          "mark": {"type": "line", "color": "#000", "strokeWidth": 1.2, "clip": true},
          "encoding": {
            "x": {"field": "x", "type": "quantitative", "scale": {"domain": [-5, 0], "nice": false, "zero": false},
              "axis": {"orient": "bottom", "domainWidth": 1.2,
                "values": [-5, -4.8, -4.6, -4.4, -4.2, -4, -3.8, -3.6, -3.4, -3.2, -3, -2.8, -2.6, -2.4, -2.2, -2, -1.8, -1.6, -1.4, -1.2, -1, -0.8, -0.6, -0.4, -0.2, 0],
                "tickSize": {"condition": {"test": "abs(datum.value - round(datum.value)) < 0.01", "value": -7}, "value": -4},
                "labels": true, "labelFontSize": 17, "labelColor": "#000", "labelPadding": 25,
                "labelExpr": "abs(datum.value - round(datum.value)) < 0.01 ? '' + round(datum.value) : ''",
                "title": "detuning from 3²S₁/₂( f = 2 ) ⟶ 3²P₃/₂( f = 3 )  (GHz)",
                "titleFontSize": 17.5, "titleFontWeight": "normal", "titleColor": "#000", "titlePadding": 15, "titleX": 307}},
            "y": {"field": "y", "type": "quantitative", "scale": {"domain": [0, 10], "nice": false, "zero": false},
              "axis": {"orient": "left", "title": null, "labels": false, "domainColor": "#666", "domainWidth": 2.5,
                "values": [1, 2, 3, 4, 5, 6, 7, 8, 9],
                "tickSize": {"condition": {"test": "datum.value == 5", "value": -9}, "value": -4},
                "tickColor": {"condition": {"test": "datum.value == 5", "value": "#888"}, "value": "#000"}}}
          }
        },
        {
          "data": {"name": "c"},
          "mark": {"type": "line", "opacity": 0},
          "encoding": {
            "x": {"field": "x", "type": "quantitative", "axis": null},
            "y": {"field": "y", "type": "quantitative",
              "axis": {"orient": "right", "title": null, "labels": false, "domainWidth": 2,
                "values": [1, 2, 3, 4, 5, 6, 7, 8, 9],
                "tickSize": {"condition": {"test": "datum.value == 5", "value": -9}, "value": -4},
                "tickColor": {"condition": {"test": "datum.value == 5", "value": "#888"}, "value": "#000"}}}
          }
        },
        {
          "data": {"values": [{}]},
          "mark": {"type": "rule", "color": "#555", "strokeWidth": 1},
          "encoding": {"x": {"datum": -3.2, "type": "quantitative", "axis": null}, "y": {"datum": 5.77, "type": "quantitative", "axis": null}, "y2": {"datum": 4.95}}
        },
        {
          "data": {"values": [{}]},
          "mark": {"type": "point", "shape": "M-0.67,-1L0,-0.55L0.67,-1L0,1Z", "filled": true, "color": "#000", "opacity": 1, "size": 225},
          "encoding": {"x": {"datum": -3.2, "type": "quantitative", "axis": null}, "y": {"datum": 4.82, "type": "quantitative", "axis": null}}
        },
        {
          "data": {"values": [{}]},
          "mark": {"type": "text", "text": "c)", "fontSize": 22, "align": "left", "baseline": "alphabetic", "color": "#000"},
          "encoding": {"x": {"datum": -4.755, "type": "quantitative", "axis": null}, "y": {"datum": 8.55, "type": "quantitative", "axis": null}}
        },
        {
          "data": {"values": [{}]},
          "mark": {"type": "text", "text": "1-color Bright MOT spectrum", "fontSize": 18.5, "align": "left", "baseline": "alphabetic", "color": "#000"},
          "encoding": {"x": {"datum": -4.492, "type": "quantitative", "axis": null}, "y": {"datum": 8.61, "type": "quantitative", "axis": null}}
        }
      ],
      "resolve": {"axis": {"x": "independent", "y": "independent"}}
    }
  ]
}
